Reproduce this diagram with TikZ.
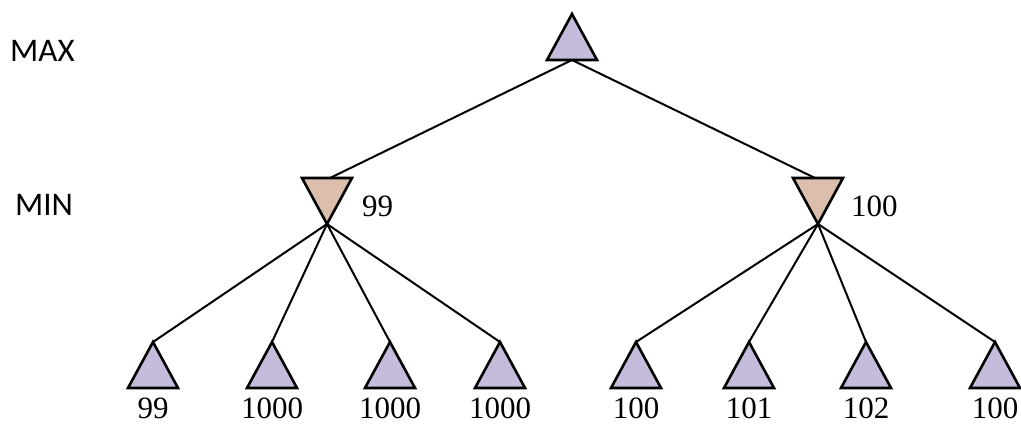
\documentclass[tikz,border=0pt]{standalone}
\usepackage{fontspec}
\setmainfont{Liberation Serif}
\newfontfamily\lblfont{Carlito}
\usetikzlibrary{shapes.geometric}
\definecolor{maxfill}{RGB}{196,188,218}
\definecolor{minfill}{RGB}{219,190,172}
\begin{document}
\begin{tikzpicture}[x=1pt,y=-1pt,
  tri/.style={isosceles triangle, isosceles triangle stretches, draw=black, line width=2.6pt,
     inner sep=0pt, outer sep=0pt, minimum width=50pt, minimum height=46pt, anchor=apex, line join=miter},
  maxtri/.style={tri, fill=maxfill, shape border rotate=90},
  mintri/.style={tri, fill=minfill, shape border rotate=270},
  edge/.style={line width=2pt, black},
  val/.style={font=\fontsize{31}{31}\selectfont, inner sep=0pt},
  side/.style={font=\lblfont\fontsize{33}{33}\selectfont, inner sep=0pt, anchor=west}]
\useasboundingbox (0,0) rectangle (1021,424);
\node[side] (lmax) at (10,51) {MAX};
\node[side] (lmin) at (15,205) {MIN};
\node[maxtri] (root) at (572,14) {};
\node[mintri] (m1) at (327,224) {};
\node[mintri] (m2) at (818,224) {};
\node[val, anchor=west] (v1) at (362,206) {99};
\node[val, anchor=west] (v2) at (851,206) {100};
\foreach \x/\t [count=\i] in {153/99,272/1000,390/1000,500/1000,636/100,749/101,866/102,995/100}{
  \node[maxtri] (l\i) at (\x,342) {};
  \node[val] (t\i) at (\x,408) {\t};
}
\draw[edge] (root.south) -- (330,178) coordinate (m1in);
\draw[edge] (root.south) -- (815,178) coordinate (m2in);
\foreach \i in {1,...,4}{\draw[edge] (m1.apex) -- (l\i.apex);}
\foreach \i in {5,...,8}{\draw[edge] (m2.apex) -- (l\i.apex);}
\end{tikzpicture}
\end{document}
